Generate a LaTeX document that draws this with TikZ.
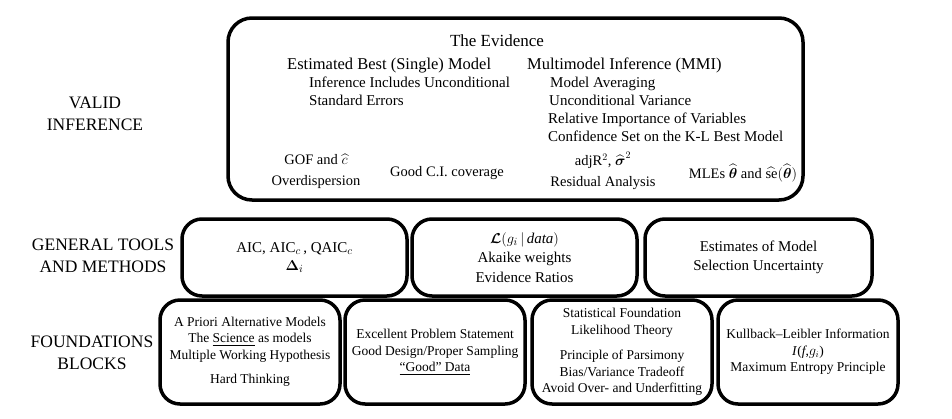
\documentclass[tikz,border=0pt]{standalone}
\usepackage{amsmath}
\usepackage{fontspec}
\setmainfont{Liberation Serif}
\begin{document}
\begin{tikzpicture}[x=1pt,y=-1pt,
  box/.style={draw, line width=3.5pt, rounded corners=20pt, inner sep=0pt, align=center},
  lab/.style={align=center, font=\fontsize{17.5}{21.5}\selectfont},
  midtxt/.style={font=\fontsize{15}{19.5}\selectfont},
  bottxt/.style={font=\fontsize{13.5}{16.5}\selectfont},
  hdr/.style={anchor=base west, font=\fontsize{16.5}{19}\selectfont, inner sep=0pt},
  sub/.style={anchor=base west, font=\fontsize{15}{18}\selectfont, inner sep=0pt},
  ev/.style={align=center, font=\fontsize{14.5}{21}\selectfont, inner sep=0pt}]
\useasboundingbox (0,0) rectangle (952,418);

% left labels
\node[lab] (lvalid) at (95,114) {VALID\\INFERENCE};
\node[lab] (lgen) at (103,256) {GENERAL TOOLS\\AND METHODS};
\node[lab] (lfound) at (92,353) {FOUNDATIONS\\BLOCKS};

% top box
\node[box, rounded corners=24pt, minimum width=575pt, minimum height=182pt] (top) at (515.5,109) {};
\node[font=\fontsize{17}{20}\selectfont, inner sep=0pt, anchor=base] (evid) at (497,46) {The Evidence};
\node[hdr] (ebm) at (287,69) {Estimated Best (Single) Model};
\node[sub] (ebm1) at (309,87) {Inference Includes Unconditional};
\node[sub] (ebm2) at (309,105) {Standard Errors};
\node[hdr] (mmi) at (527,69) {Multimodel Inference (MMI)};
\node[sub] (mmi1) at (550,87) {Model Averaging};
\node[sub] (mmi2) at (549,105) {Unconditional Variance};
\node[sub] (mmi3) at (548,123) {Relative Importance of Variables};
\node[sub] (mmi4) at (548,141) {Confidence Set on the K-L Best Model};
\node[ev] (gof) at (316,171) {GOF and $\widehat{c}$\\Overdispersion};
\node[ev] (ci) at (447,173) {Good C.I. coverage};
\node[ev] (adj) at (603,171) {adjR$^2$, $\widehat{\boldsymbol{\sigma}}^2$\\Residual Analysis};
\node[ev] (mle) at (743,173) {MLEs $\widehat{\boldsymbol{\theta}}$ and $\widehat{\mathrm{se}}(\widehat{\boldsymbol{\theta}})$};

% middle row
\node[box, midtxt, minimum width=225pt, minimum height=77pt] (aic) at (294.5,257.5)
  {AIC, AIC$_c$\,, QAIC$_c$\\[-2pt]$\boldsymbol{\Delta}_i$};
\node[box, midtxt, minimum width=225pt, minimum height=77pt] (lik) at (524.5,257.5)
  {$\boldsymbol{\mathcal{L}}(g_i\,|\,\textit{data})$\\Akaike weights\\Evidence Ratios};
\node[box, midtxt, minimum width=227pt, minimum height=77pt] (est) at (758.5,257.5)
  {Estimates of Model\\Selection Uncertainty};

% bottom row
\node[box, bottxt, minimum width=180pt, minimum height=104pt] (apr) at (250,352)
  {A Priori Alternative Models\\The \underline{Science} as models\\Multiple Working Hypothesis\\[8pt]Hard Thinking};
\node[box, bottxt, minimum width=180pt, minimum height=104pt] (exc) at (435,352)
  {Excellent Problem Statement\\Good Design/Proper Sampling\\\underline{``Good'' Data}};
\node[box, bottxt, minimum width=180pt, minimum height=104pt] (stat) at (622,352)
  {Statistical Foundation\\Likelihood Theory\\[9pt]Principle of Parsimony\\Bias/Variance Tradeoff\\Avoid Over- and Underfitting};
\node[box, bottxt, minimum width=180pt, minimum height=104pt] (kl) at (808,352)
  {Kullback--Leibler Information\\\textit{I}(\textit{f},$g_i$)\\Maximum Entropy Principle};
\end{tikzpicture}
\end{document}
